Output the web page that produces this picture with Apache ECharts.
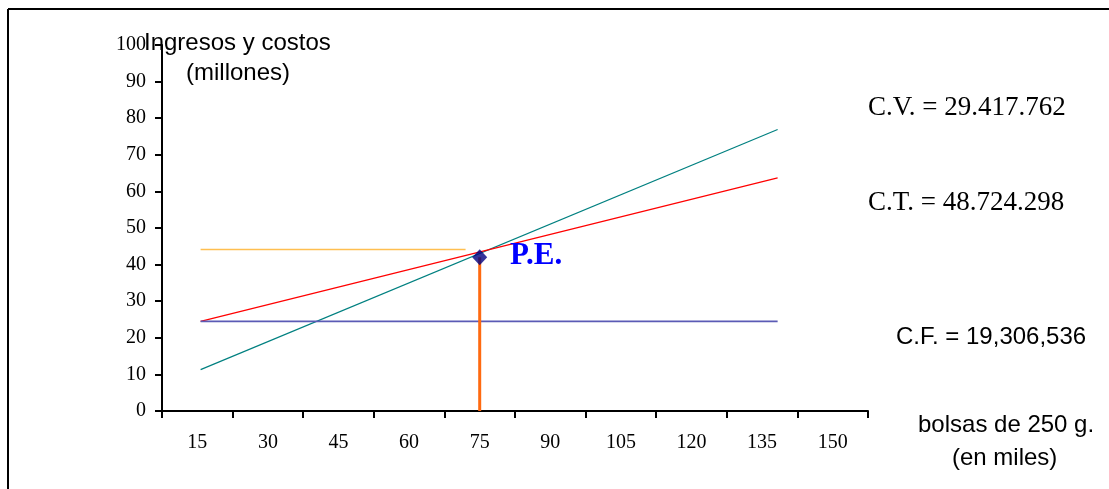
<!DOCTYPE html>
<html>
<head>
<meta charset="utf-8">
<script src="https://cdn.jsdelivr.net/npm/echarts@6/dist/echarts.min.js"></script>
<style>
html,body{margin:0;padding:0;background:#fff;}
#c{width:1109px;height:489px;}
</style>
</head>
<body>
<div id="c"></div>
<script>
// ---- data ----
var xCategories = ['15','30','45','60','75','90','105','120','135','150'];
var yTicks = [0,10,20,30,40,50,60,70,80,90,100];
var ingresos = [[15.7, 11.3], [138.3, 76.9]];
var costoTotal = [[15.7, 24.5], [138.3, 63.7]];
var costoFijo = [[15.7, 24.5], [138.3, 24.5]];
var nivelPE = [[15.7, 44.1], [72.0, 44.1]];
var verticalPE = [[75, 0], [75, 42.0]];
var puntoPE = [[75, 42.0]];
var yTitle = ['Ingresos y costos', '(millones)'];
var xTitle = ['bolsas de 250 g.', '(en miles)'];
var labelCV = 'C.V. = 29.417.762';
var labelCT = 'C.T. = 48.724.298';
var labelCF = 'C.F. = 19,306,536';
var labelPE = 'P.E.';

var serif = '"Liberation Serif", "Times New Roman", serif';
var sans = '"Liberation Sans", Arial, sans-serif';

function txt(x, y, s, font, fill) {
  return {type: 'text', x: x, y: y, z: 10,
    style: {text: s, font: font, fill: fill || '#000', align: 'left', verticalAlign: 'middle'}};
}

var chart = echarts.init(document.getElementById('c'));
chart.setOption({
  animation: false,
  backgroundColor: '#ffffff',
  grid: {left: 162, right: 241, top: 45, bottom: 78, containLabel: false},
  xAxis: [
    {
      type: 'category',
      data: xCategories,
      boundaryGap: true,
      position: 'bottom',
      axisLine: {show: true, lineStyle: {color: '#000', width: 2}},
      axisTick: {show: true, alignWithLabel: false, length: 7, lineStyle: {color: '#000', width: 2}},
      axisLabel: {color: '#000', fontFamily: serif, fontSize: 20, margin: 22},
      splitLine: {show: false}
    },
    {
      type: 'value',
      min: 7.5,
      max: 157.5,
      show: false,
      splitLine: {show: false}
    }
  ],
  yAxis: {
    type: 'value',
    min: yTicks[0],
    max: yTicks[yTicks.length - 1],
    interval: 10,
    axisLine: {show: true, lineStyle: {color: '#000', width: 2}},
    axisTick: {show: true, length: 7, lineStyle: {color: '#000', width: 2}},
    axisLabel: {color: '#000', fontFamily: serif, fontSize: 20, margin: 16},
    splitLine: {show: false}
  },
  series: [
    {type: 'line', xAxisIndex: 1, data: ingresos, symbol: 'none', lineStyle: {color: '#008080', width: 1.2}},
    {type: 'line', xAxisIndex: 1, data: costoTotal, symbol: 'none', lineStyle: {color: '#ff0000', width: 1.2}},
    {type: 'line', xAxisIndex: 1, data: costoFijo, symbol: 'none', lineStyle: {color: '#5b5bb5', width: 1.8}},
    {type: 'line', xAxisIndex: 1, data: nivelPE, symbol: 'none', lineStyle: {color: '#ffbf50', width: 1.5}},
    {type: 'line', xAxisIndex: 1, data: verticalPE, symbol: 'none', lineStyle: {color: '#ff6a10', width: 3}, z: 3},
    {type: 'scatter', xAxisIndex: 1, data: puntoPE, symbol: 'diamond', symbolSize: [15, 16], itemStyle: {color: '#000080'}, z: 5}
  ],
  graphic: [
    {type: 'line', shape: {x1: 8, y1: 9, x2: 1109, y2: 9}, style: {stroke: '#000', lineWidth: 2}},
    {type: 'line', shape: {x1: 8, y1: 9, x2: 8, y2: 489}, style: {stroke: '#000', lineWidth: 2}},
    txt(144, 43, yTitle[0], '24px ' + sans),
    txt(186, 73, yTitle[1], '24px ' + sans),
    txt(918, 425, xTitle[0], '24px ' + sans),
    txt(952, 458, xTitle[1], '24px ' + sans),
    txt(868, 108, labelCV, '27px ' + serif),
    txt(868, 203, labelCT, '27px ' + serif),
    txt(896, 337, labelCF, '24px ' + sans),
    txt(510, 256, labelPE, 'bold 31px ' + serif, '#0000ff')
  ]
});
</script>
</body>
</html>
